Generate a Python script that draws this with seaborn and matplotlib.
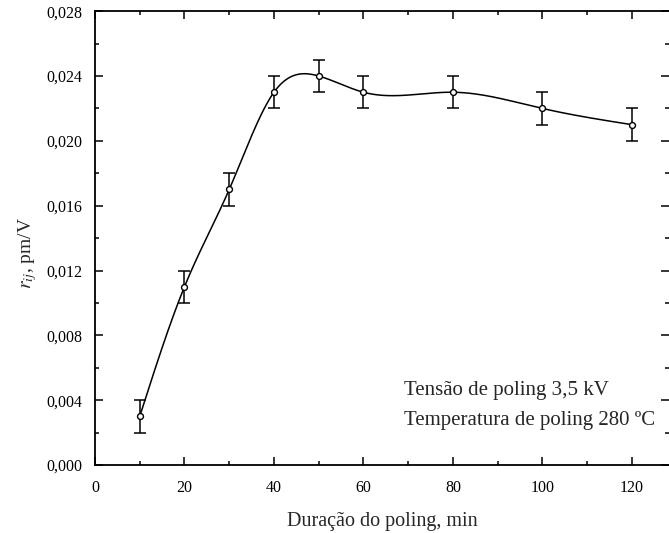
import numpy as np
import pandas as pd
import matplotlib
matplotlib.use("Agg")
import matplotlib.pyplot as plt
import seaborn as sns
from matplotlib.ticker import MultipleLocator, FuncFormatter

duration = [10, 20, 30, 40, 50, 60, 80, 100, 120]
r_ij = [0.003, 0.011, 0.017, 0.023, 0.024, 0.023, 0.023, 0.022, 0.021]
r_err = [0.001, 0.001, 0.001, 0.001, 0.001, 0.001, 0.001, 0.001, 0.001]

sns.set_theme(style="ticks")
plt.rcParams['font.family'] = ['Liberation Serif', 'DejaVu Serif']
plt.rcParams['mathtext.fontset'] = 'stix'


def natural_spline(x, y, n=400):
    x = np.asarray(x, float); y = np.asarray(y, float)
    k = len(x); h = np.diff(x)
    A = np.zeros((k, k)); b = np.zeros(k)
    A[0, 0] = A[-1, -1] = 1
    for i in range(1, k - 1):
        A[i, i - 1] = h[i - 1]; A[i, i] = 2 * (h[i - 1] + h[i]); A[i, i + 1] = h[i]
        b[i] = 6 * ((y[i + 1] - y[i]) / h[i] - (y[i] - y[i - 1]) / h[i - 1])
    M = np.linalg.solve(A, b)
    xs = np.linspace(x[0], x[-1], n)
    idx = np.clip(np.searchsorted(x, xs) - 1, 0, k - 2)
    x0, x1 = x[idx], x[idx + 1]; hh = x1 - x0
    ys = (M[idx] * (x1 - xs) ** 3 / (6 * hh) + M[idx + 1] * (xs - x0) ** 3 / (6 * hh)
          + (y[idx] / hh - M[idx] * hh / 6) * (x1 - xs)
          + (y[idx + 1] / hh - M[idx + 1] * hh / 6) * (xs - x0))
    return xs, ys


df = pd.DataFrame({"x": duration, "y": r_ij})
xs, ys = natural_spline(duration, r_ij)
curve = pd.DataFrame({"x": xs, "y": ys})

fig = plt.figure(figsize=(6.69, 5.33), dpi=100)
ax = fig.add_axes([0.142, 0.1276, 0.858, 0.8514])

sns.lineplot(data=curve, x="x", y="y", color="black", linewidth=1.1, ax=ax, zorder=2)
ax.errorbar(duration, r_ij, yerr=r_err, fmt="none", ecolor="black", elinewidth=1.1,
            capsize=4, capthick=1.1, zorder=3)
sns.scatterplot(data=df, x="x", y="y", marker="o", s=18, facecolor="white",
                edgecolor="black", linewidth=1.0, ax=ax, zorder=4)

ax.set_xlim(0, 128.3)
ax.set_ylim(0, 0.028)
ax.xaxis.set_major_locator(MultipleLocator(20))
ax.xaxis.set_minor_locator(MultipleLocator(10))
ax.yaxis.set_major_locator(MultipleLocator(0.004))
ax.yaxis.set_minor_locator(MultipleLocator(0.002))
ax.yaxis.set_major_formatter(FuncFormatter(lambda v, p: f"{v:.3f}".replace(".", ",")))
ax.tick_params(which="both", direction="in", top=True, right=True, width=1.1,
               labelsize=11.5, colors="black")
ax.tick_params(which="major", length=6)
ax.tick_params(which="minor", length=3)
ax.tick_params(axis="y", which="major", pad=9)
ax.tick_params(axis="x", which="major", pad=11)
for s in ["left", "bottom", "top"]:
    ax.spines[s].set_linewidth(1.3)
    ax.spines[s].set_color("black")
ax.spines["right"].set_visible(False)

ax.set_xlabel("Duração do poling, min", fontsize=14.5)
ax.set_ylabel(r"$r_{ij}$, pm/V", fontsize=14)
ax.yaxis.set_label_coords(-0.097, 0.467)
ax.xaxis.set_label_coords(0.5, -0.103)

ax.text(69, 0.0046, "Tensão de poling 3,5 kV", fontsize=15, va="center", ha="left")
ax.text(69, 0.00275, "Temperatura de poling 280 ºC", fontsize=15, va="center", ha="left")

fig.savefig("out.png", dpi=100)
